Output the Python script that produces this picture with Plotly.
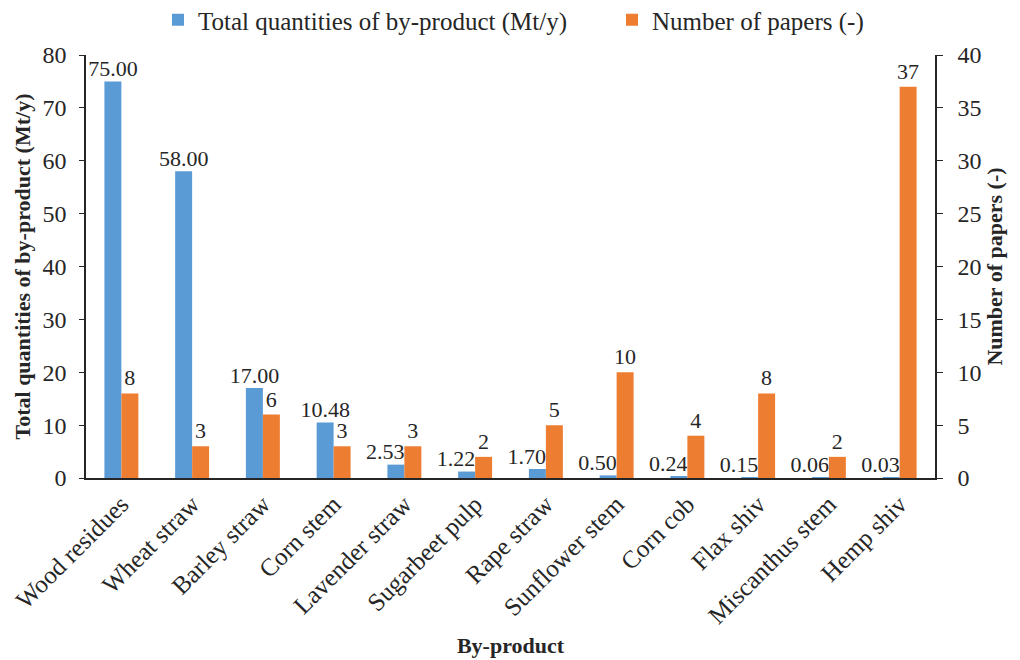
import plotly.graph_objects as go

categories = ["Wood residues", "Wheat straw", "Barley straw", "Corn stem", "Lavender straw",
              "Sugarbeet pulp", "Rape straw", "Sunflower stem", "Corn cob", "Flax shiv",
              "Miscanthus stem", "Hemp shiv"]
quantities = [75.00, 58.00, 17.00, 10.48, 2.53, 1.22, 1.70, 0.50, 0.24, 0.15, 0.06, 0.03]
papers = [8, 3, 6, 3, 3, 2, 5, 10, 4, 8, 2, 37]

FONT = "Liberation Serif"
TXT = "#262626"
BW = 0.24  # bar width in category units
idx = list(range(len(categories)))
W, H = 1012, 652  # page body has an 8px margin

fig = go.Figure()
fig.add_trace(go.Bar(
    x=idx, y=quantities, name="Total quantities of by-product (Mt/y)",
    marker_color="#5B9BD5", marker_line_width=0, yaxis="y", width=BW, offset=-BW,
    legend="legend",
))
fig.add_trace(go.Bar(
    x=idx, y=papers, name="Number of papers (-)",
    marker_color="#ED7D31", marker_line_width=0, yaxis="y2", width=BW, offset=0,
    text=[str(v) for v in papers], textposition="outside", constraintext="none",
    textangle=0, textfont=dict(family=FONT, size=22, color=TXT), cliponaxis=False,
    legend="legend2",
))

# Blue value labels: centred on the blue bar, or pushed left when they would hit the orange label
clash = [q < 2 * p + 3.5 for q, p in zip(quantities, papers)]
lab_x = [i if c else i - BW / 2 for i, c in zip(idx, clash)]
lab_pos = ["top left" if c else "top center" for c in clash]
fig.add_trace(go.Scatter(
    x=lab_x, y=quantities, mode="text", yaxis="y", showlegend=False, hoverinfo="skip",
    text=[f"{v:.2f}" for v in quantities], textposition=lab_pos,
    textfont=dict(family=FONT, size=22, color=TXT), cliponaxis=False,
))

leg_common = dict(orientation="h", xref="container", yref="container", y=1 - 12 / H,
                  xanchor="left", yanchor="middle", itemwidth=30,
                  font=dict(family=FONT, size=25, color=TXT), bgcolor="rgba(0,0,0,0)")

fig.update_layout(
    width=W, height=H,
    paper_bgcolor="white", plot_bgcolor="white",
    font=dict(family=FONT, size=24, color=TXT),
    barmode="overlay",
    margin=dict(l=78, r=85, t=47, b=182, autoexpand=False),
    showlegend=True,
    legend=dict(x=150 / W, **leg_common),
    legend2=dict(x=604 / W, **leg_common),
    xaxis=dict(range=[-0.5, len(categories) - 0.5], tickvals=idx, ticktext=categories,
               showline=True, linecolor="#262626", linewidth=1.5, ticks="", automargin=False,
               showgrid=False, zeroline=False,
               tickangle=-45, tickfont=dict(family=FONT, size=25, color=TXT),
               title=dict(text="<b>By-product</b>", font=dict(family=FONT, size=22, color=TXT),
                          standoff=10)),
    yaxis=dict(range=[0, 80], dtick=10, showgrid=False, zeroline=False, automargin=False,
               showline=True, linecolor="#262626", linewidth=1.5, ticks="outside", ticklen=5,
               tickcolor="#262626", ticklabelstandoff=8,
               tickfont=dict(family=FONT, size=24, color=TXT),
               title=dict(text="<b>Total quantities of by-product (Mt/y)</b>",
                          font=dict(family=FONT, size=22, color=TXT), standoff=6)),
    yaxis2=dict(range=[0, 40], dtick=5, overlaying="y", side="right", showgrid=False,
                zeroline=False, showline=True, linecolor="#262626", linewidth=1.5,
                automargin=False, ticks="outside", ticklen=6, tickcolor="#262626",
                ticklabelstandoff=10,
                tickfont=dict(family=FONT, size=24, color=TXT),
                title=dict(text="<b>Number of papers (-)</b>",
                           font=dict(family=FONT, size=22, color=TXT), standoff=5)),
)
fig.write_html("out.html")
